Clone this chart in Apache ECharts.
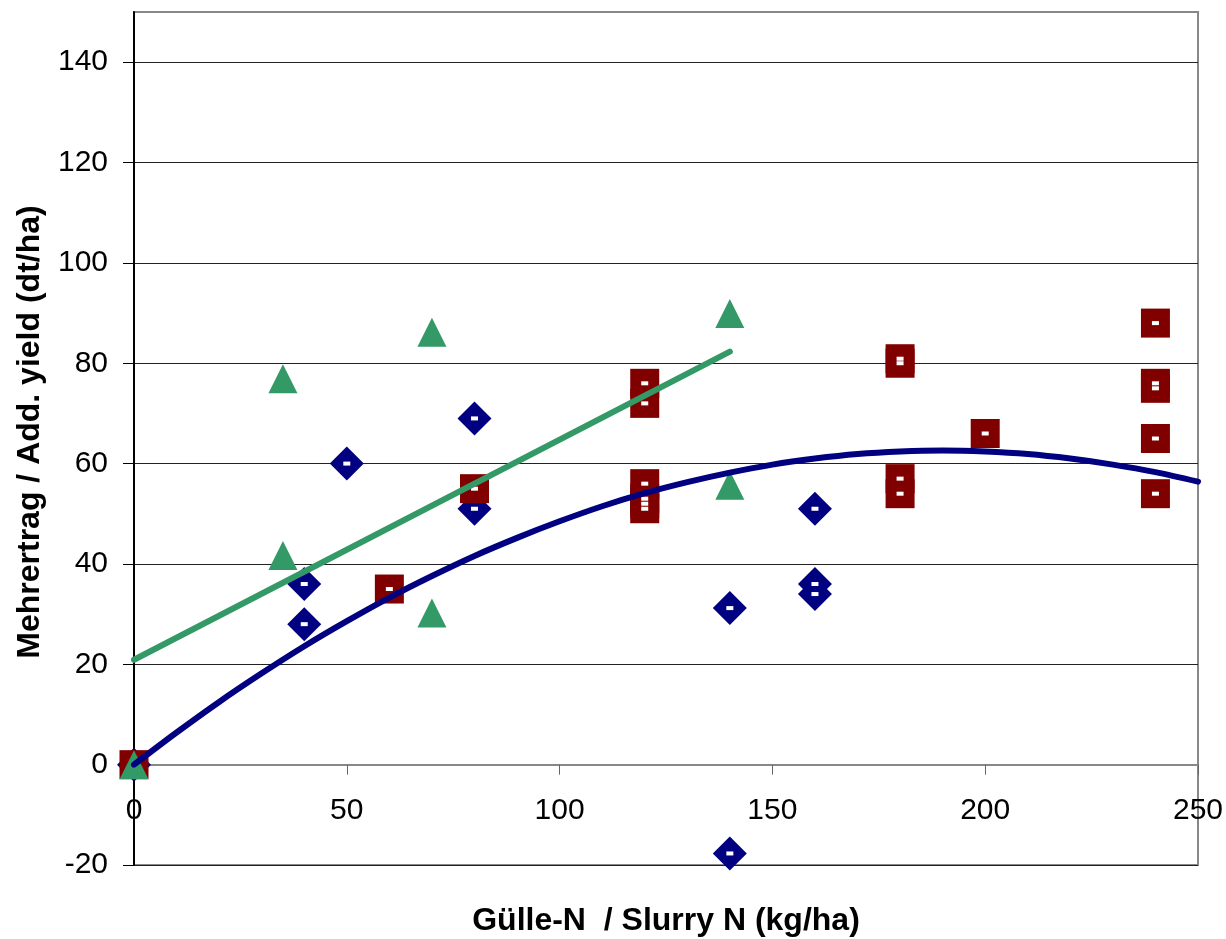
<!DOCTYPE html>
<html>
<head>
<meta charset="utf-8">
<script src="https://cdn.jsdelivr.net/npm/echarts@6/dist/echarts.min.js"></script>
<style>
html,body{margin:0;padding:0;background:#fff;}
#c{width:1226px;height:939px;}
</style>
</head>
<body>
<div id="c"></div>
<script>
// Blue diamonds
const diamondX = [0, 40, 40, 50, 80, 80, 140, 140, 160, 160, 160];
const diamondY = [0, 36, 28, 60, 69, 51, 31.2, -17.7, 51, 36, 34];
// Red squares
const squareX = [0, 60, 80, 120, 120, 120, 120, 120, 120, 180, 180, 180, 180, 200, 240, 240, 240, 240, 240];
const squareY = [0, 35, 55, 76, 72, 56, 53, 52, 51, 80.9, 80, 57, 54, 66, 88, 76, 75, 65, 54];
// Green triangles
const triangleX = [0, 35, 35, 70, 70, 140, 140];
const triangleY = [0, 76.9, 41.7, 86.2, 30.2, 89.9, 55.7];
// Blue trend curve
const blueTrendX = [0, 10, 20, 30, 40, 50, 60, 70, 80, 90, 100, 110, 120, 130, 140, 150, 160, 170, 180, 190, 200, 210, 220, 230, 240, 250];
const blueTrendY = [0, 6.4, 12.5, 18.2, 23.6, 28.6, 33.3, 37.6, 41.6, 45.2, 48.5, 51.5, 54.1, 56.3, 58.2, 59.8, 61.0, 61.9, 62.4, 62.6, 62.4, 61.9, 61.0, 59.8, 58.3, 56.4];
// Green trend line
const greenTrendX = [0, 140];
const greenTrendY = [20.9, 82.3];
// Axis ticks
const yTicks = [-20, 0, 20, 40, 60, 80, 100, 120, 140];
const xTitle = 'Gülle-N  / Slurry N (kg/ha)';
const yTitle = 'Mehrertrag / Add. yield (dt/ha)';

const zip = (xs, ys) => xs.map((x, i) => [x, ys[i]]);
const FONT = 'Liberation Sans, Arial, sans-serif';
const NAVY = '#000080', MAROON = '#800000', SEA = '#339966';

const GRID_TOP = 12, GRID_BOTTOM = 74, H = 939;
const YMIN = -20, YMAX = 150;
const plotH = H - GRID_TOP - GRID_BOTTOM;
// shift x axis up so that it sits on y = 0
const xOffset = -plotH * (0 - YMIN) / (YMAX - YMIN);

const chart = echarts.init(document.getElementById('c'), null, {renderer: 'canvas'});
chart.setOption({
  animation: false,
  backgroundColor: '#ffffff',
  grid: {left: 134, right: 28, top: GRID_TOP, bottom: GRID_BOTTOM, show: true, borderColor: '#888888', borderWidth: 2,
    containLabel: false, outerBoundsMode: 'none'},
  xAxis: {
    type: 'value', min: 0, max: 250, interval: 50, offset: xOffset,
    axisLine: {onZero: false, lineStyle: {color: '#888888', width: 2}},
    axisTick: {show: true, inside: false, length: 10, lineStyle: {color: '#666666', width: 1}},
    axisLabel: {fontFamily: FONT, fontSize: 30, color: '#000', margin: 31},
    splitLine: {show: false}
  },
  yAxis: {
    type: 'value', min: YMIN, max: YMAX, interval: 20,
    axisLine: {show: true, onZero: false, lineStyle: {color: '#000000', width: 2}},
    axisTick: {show: true, inside: false, length: 11, customValues: yTicks, lineStyle: {color: '#000', width: 1}},
    axisLabel: {fontFamily: FONT, fontSize: 30, color: '#000', margin: 26, customValues: yTicks},
    splitLine: {show: true, lineStyle: {color: '#222222', width: 1}}
  },
  graphic: [
    {type: 'text', x: 666, y: 921, silent: true,
      style: {text: xTitle, font: 'bold 32px ' + FONT, fill: '#000', textAlign: 'center', textVerticalAlign: 'middle'}},
    {type: 'text', x: 30, y: 432, rotation: Math.PI / 2, silent: true,
      style: {text: yTitle, font: 'bold 32px ' + FONT, fill: '#000', textAlign: 'center', textVerticalAlign: 'middle'}}
  ],
  series: [
    {type: 'scatter', data: zip(diamondX, diamondY), symbol: 'diamond', symbolSize: [34, 34], itemStyle: {color: NAVY, opacity: 1}, z: 3},
    {type: 'scatter', data: zip(diamondX, diamondY), symbol: 'rect', symbolSize: [7, 4], itemStyle: {color: '#fff', opacity: 1}, z: 4},
    {type: 'scatter', data: zip(squareX, squareY), symbol: 'rect', symbolSize: [29, 29], itemStyle: {color: MAROON, opacity: 1}, z: 5},
    {type: 'scatter', data: zip(squareX, squareY), symbol: 'rect', symbolSize: [7, 4], itemStyle: {color: '#fff', opacity: 1}, z: 6},
    {type: 'scatter', data: zip(triangleX, triangleY), symbol: 'triangle', symbolSize: [29, 29], itemStyle: {color: SEA, opacity: 1}, z: 7},
    {type: 'line', data: zip(blueTrendX, blueTrendY), smooth: 0.3, showSymbol: false, symbol: 'none',
      lineStyle: {color: NAVY, width: 6, cap: 'round'}, z: 8},
    {type: 'line', data: zip(greenTrendX, greenTrendY), showSymbol: false, symbol: 'none',
      lineStyle: {color: SEA, width: 6, cap: 'round'}, z: 9}
  ]
});
</script>
</body>
</html>
